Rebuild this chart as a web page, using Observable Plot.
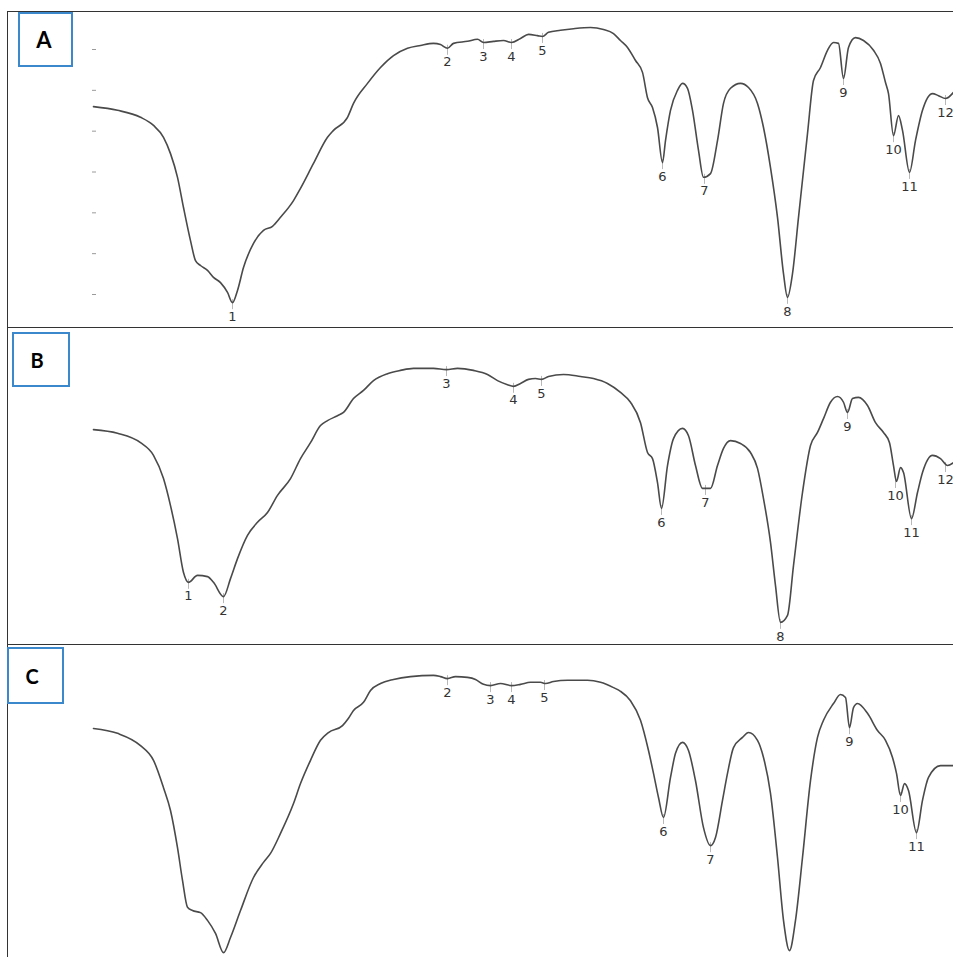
<!DOCTYPE html>
<html>
<head>
<meta charset="utf-8">
<script src="https://cdn.jsdelivr.net/npm/d3@7"></script>
<script src="https://cdn.jsdelivr.net/npm/@observablehq/plot@0.6"></script>
<style>
html, body { margin: 0; padding: 0; background: #fff; overflow: hidden; }
#page { position: relative; width: 953px; height: 957px; overflow: hidden; background: #fff; }
.panel { position: absolute; left: 0; width: 992px; height: 316px; }
.frame { position: absolute; left: 7px; width: 1000px; border: 1.5px solid #333; box-sizing: border-box; pointer-events: none; }
.tag { position: absolute; box-sizing: border-box; border: 2px solid #3b88cc; background: #fff;
       display: flex; align-items: center; justify-content: center;
       font-family: Lato, "Open Sans", sans-serif; font-weight: 700; color: #000; }
</style>
</head>
<body>
<div id="page"></div>
<script>
// ---- Panel A spectrum (wavenumber cm-1, transmittance %) ----
const wnA = [3996,3900,3808,3756,3716,3688,3660,3636,3608,3588,
  3568,3540,3516,3488,3460,3440,3420,3396,3356,3316,
  3280,3248,3196,3168,3116,3060,3036,2980,2956,2900,
  2848,2796,2740,2688,2636,2608,2580,2556,2500,2460,
  2436,2396,2356,2324,2288,2256,2220,2200,2176,2128,
  2076,2008,1956,1916,1888,1860,1828,1800,1780,1760,
  1740,1720,1708,1688,1660,1640,1620,1600,1576,1556,
  1528,1500,1476,1448,1408,1376,1340,1316,1288,1260,
  1236,1220,1200,1176,1140,1116,1088,1060,1036,1016,
  996,976,948,916,876,848,828,816,796,776,
  760,732,708,680,640,616,588,556];
const tA = [56.0,55.1,53.4,51.4,48.5,44.5,38.7,31.3,23.2,18.3,
  17.1,15.9,14.2,12.9,10.5,8.0,11.0,16.6,22.5,25.7,
  26.7,28.9,33.0,36.0,42.1,48.5,50.2,53.4,56.8,61.7,
  65.6,68.5,70.3,71.0,71.5,71.2,70.3,71.5,72.0,72.5,
  71.7,72.0,72.2,71.7,72.7,73.7,73.4,73.2,74.2,74.7,
  75.1,75.4,74.9,73.9,72.2,70.5,67.3,64.4,58.2,55.8,
  50.9,42.3,47.7,55.1,60.0,61.7,60.5,55.1,45.3,38.7,
  39.6,47.7,56.8,60.5,61.7,60.7,56.8,50.9,41.1,28.9,
  15.1,9.3,15.1,28.9,49.4,62.4,65.6,69.8,71.7,71.5,
  62.9,70.5,72.9,72.2,69.8,66.6,61.9,59.2,48.9,53.8,
  50.2,39.9,47.7,55.1,59.2,58.7,58.0,59.5];
const peakNoA = [1,2,3,4,5,6,7,8,9,10,11,12];
const peakWnA = [3440,2580,2436,2324,2200,1720,1552,1220,996,796,732,588];
const peakTA  = [8.0,70.3,71.7,71.7,73.2,42.3,38.7,9.3,62.9,48.9,39.9,58.0];
const yTicksA = [10,20,30,40,50,60,70];

// ---- Panel B ----
const wnB = [3996,3900,3808,3756,3716,3688,3660,3636,3616,3580,
  3540,3516,3476,3448,3420,3380,3340,3300,3260,3208,
  3168,3128,3088,3060,3020,2996,2956,2916,2876,2820,
  2768,2716,2636,2584,2540,2476,2420,2380,2340,2316,
  2288,2256,2228,2204,2176,2116,2048,1996,1940,1888,
  1848,1808,1780,1760,1740,1724,1700,1676,1640,1616,
  1588,1560,1528,1500,1476,1448,1408,1368,1340,1316,
  1288,1268,1248,1220,1196,1160,1128,1100,1076,1048,
  1020,996,980,960,936,900,868,836,812,796,
  784,768,756,724,700,680,640,608,580,556];
const tB = [54.3,53.4,51.1,48.0,42.3,35.7,27.6,19.3,16.9,18.6,
  18.3,16.9,13.4,17.8,22.7,28.4,31.6,34.0,38.2,42.3,
  47.2,51.1,55.3,56.5,57.7,58.5,61.9,63.9,66.3,68.0,
  68.8,69.3,69.3,69.0,69.3,68.8,67.8,66.3,65.3,64.9,
  65.6,66.6,66.8,66.6,67.3,67.8,67.3,66.8,65.6,63.4,
  61.0,56.0,48.7,47.2,41.3,35.0,45.5,52.1,54.6,52.8,
  45.5,39.9,39.9,45.5,49.7,51.6,50.9,48.7,44.8,37.4,
  26.7,16.1,7.1,8.8,21.0,38.9,50.4,53.6,57.0,61.0,
  62.4,61.0,58.5,61.9,62.2,60.2,56.0,53.6,51.1,45.5,
  41.6,45.0,43.8,32.5,38.9,43.8,48.0,47.2,45.5,46.2];
const peakNoB = [1,2,3,4,5,6,7,8,9,10,11,12];
const peakWnB = [3616,3476,2584,2316,2204,1724,1548,1248,980,788,724,588];
const peakTB  = [16.9,13.4,69.0,64.9,66.6,35.0,39.9,7.1,58.5,41.6,32.5,45.5];

// ---- Panel C ----
const wnC = [3996,3900,3808,3756,3716,3688,3660,3640,3620,3600,
  3568,3540,3508,3476,3448,3408,3356,3316,3288,3248,
  3196,3168,3128,3088,3056,3000,2976,2956,2916,2888,
  2848,2796,2728,2636,2608,2580,2548,2500,2468,2436,
  2408,2368,2324,2288,2248,2208,2188,2156,2100,2020,
  1968,1916,1888,1848,1808,1776,1756,1736,1716,1688,
  1668,1640,1616,1588,1556,1528,1508,1480,1460,1436,
  1400,1376,1340,1316,1288,1260,1236,1212,1188,1160,
  1128,1100,1076,1036,1008,988,972,956,940,900,
  860,828,800,784,768,752,736,704,680,656,
  608,556];
const tC = [58.5,57.3,54.3,50.7,44.0,38.4,29.3,21.3,14.7,13.9,
  13.4,11.5,8.3,3.6,7.3,13.9,22.0,25.7,27.9,32.8,
  40.1,45.0,50.7,55.6,57.5,59.2,61.0,62.9,64.9,67.8,
  69.5,70.5,71.2,71.5,71.2,70.7,71.2,71.0,70.5,69.3,
  69.0,69.5,69.0,69.3,69.8,69.8,69.5,70.0,70.3,70.3,
  69.8,68.5,67.6,65.3,60.5,53.1,47.5,41.6,36.7,46.5,
  52.4,55.1,53.1,45.7,34.2,29.8,31.8,40.9,47.5,53.8,
  56.3,57.5,55.6,51.4,42.6,26.9,11.5,4.1,11.5,26.9,
  45.7,56.3,60.5,64.6,66.8,66.1,58.7,63.6,64.6,62.2,
  58.0,55.6,51.4,47.5,42.1,45.0,43.3,33.0,40.9,46.5,
  49.4,49.4];
const peakNoC = [2,3,4,5,6,7,9,10,11];
const peakWnC = [2580,2408,2324,2192,1716,1528,972,768,704];
const peakTC  = [70.7,69.0,69.0,69.5,36.7,29.8,58.7,42.1,33.0];

const panelNames = ["A", "B", "C"];

function spectrum(wn, t, no, pwn, pt, yTicks) {
  const rows = wn.map((w, i) => ({wn: w, t: t[i]}));
  const peaks = no.map((n, i) => ({no: String(n), wn: pwn[i], t: pt[i]}));
  const marks = [
    Plot.ruleX(peaks, {x: "wn", y1: "t", y2: "t", insetTop: -3, insetBottom: -7, stroke: "#b8b8b8", strokeWidth: 1}),
    Plot.line(rows, {x: "wn", y: "t", stroke: "#4a4a4a", strokeWidth: 1.6, curve: "monotone-x"}),
    Plot.text(peaks, {x: "wn", y: "t", text: "no", dy: 14, fontSize: 13, fontFamily: "DejaVu Sans", fill: "#333"})
  ];
  if (yTicks) marks.unshift(Plot.axisY(yTicks, {anchor: "left", tickSize: -4, tickFormat: () => "", label: null, stroke: "#9a9a9a"}));
  return Plot.plot({
    width: 992, height: 316,
    marginLeft: 92, marginRight: 0, marginTop: 0, marginBottom: 0,
    x: {domain: [4000, 400], axis: null},
    y: yTicks ? {domain: [10, 70], range: [283, 38]} : {domain: [10, 70], range: [283, 38], axis: null},
    style: {background: "transparent", maxWidth: "none", overflow: "visible"},
    marks
  });
}

const page = document.getElementById("page");
const charts = [
  spectrum(wnA, tA, peakNoA, peakWnA, peakTA, yTicksA),
  spectrum(wnB, tB, peakNoB, peakWnB, peakTB, null),
  spectrum(wnC, tC, peakNoC, peakWnC, peakTC, null)
];
const svgTops = [11, 327, 643];
charts.forEach((c, i) => {
  const d = document.createElement("div");
  d.className = "panel";
  d.style.top = svgTops[i] + "px";
  d.appendChild(c);
  page.appendChild(d);
});
const frames = [[11, 317], [327, 318], [644, 330]];
frames.forEach(([top, h]) => {
  const f = document.createElement("div");
  f.className = "frame";
  f.style.top = top + "px";
  f.style.height = h + "px";
  page.appendChild(f);
});
const tags = [
  {left: 18, top: 12, w: 55, h: 55, size: 22, pr: 3},
  {left: 12, top: 332, w: 58, h: 55, size: 20, pr: 8},
  {left: 7, top: 647, w: 57, h: 57, size: 20, pr: 7}
];
tags.forEach((g, i) => {
  const b = document.createElement("div");
  b.className = "tag";
  Object.assign(b.style, {left: g.left + "px", top: g.top + "px", width: g.w + "px", height: g.h + "px",
    fontSize: g.size + "px", paddingRight: g.pr + "px"});
  b.textContent = panelNames[i];
  page.appendChild(b);
});
</script>
</body>
</html>
